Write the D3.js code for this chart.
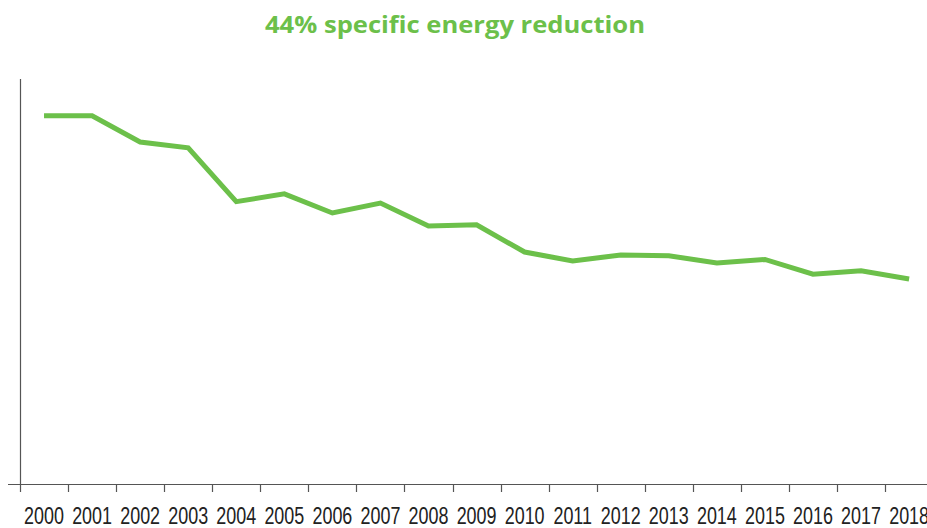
<!DOCTYPE html>
<html>
<head>
<meta charset="utf-8">
<script src="https://cdn.jsdelivr.net/npm/d3@7"></script>
<style>
  html, body { margin: 0; padding: 0; background: #fff; }
  svg { display: block; }
</style>
</head>
<body>
<svg id="chart" width="927" height="528"></svg>
<script>
const years = ["2000","2001","2002","2003","2004","2005","2006","2007","2008","2009",
               "2010","2011","2012","2013","2014","2015","2016","2017","2018"];
// Specific energy index (2000 = 100)
const energyIndex = [100, 100, 92.9, 91.3, 76.7, 78.8, 73.6, 76.3, 70.1, 70.4,
                     63.0, 60.6, 62.2, 62.0, 60.0, 61.0, 57.0, 57.9, 55.7];
const titleText = "44% specific energy reduction";

const W = 927, H = 528;
const green = "#6cc04a";
const axisColor = "#555";

const svg = d3.select("#chart");

const x = d3.scaleBand().domain(years).range([20, 20 + 19 * 48.06]).padding(0);
const y = d3.scaleLinear().domain([0, 110]).range([484, 79]);

// Title
svg.append("text")
  .attr("x", 455).attr("y", 33)
  .attr("text-anchor", "middle")
  .attr("fill", green)
  .attr("textLength", 380)
  .attr("lengthAdjust", "spacingAndGlyphs")
  .style("font-family", "'Open Sans', Lato, sans-serif")
  .style("font-weight", "700")
  .style("font-size", "22.5px")
  .text(titleText);

// Y axis line
svg.append("line")
  .attr("x1", 20.5).attr("x2", 20.5)
  .attr("y1", y(110)).attr("y2", y(0))
  .attr("stroke", axisColor).attr("stroke-width", 1.2);

// X axis line
svg.append("line")
  .attr("x1", 8).attr("x2", W)
  .attr("y1", y(0) + 0.5).attr("y2", y(0) + 0.5)
  .attr("stroke", axisColor).attr("stroke-width", 1.2);

// Tick marks at band boundaries
svg.append("g").selectAll("line")
  .data(years)
  .join("line")
  .attr("x1", d => Math.round(x(d)) + 0.5)
  .attr("x2", d => Math.round(x(d)) + 0.5)
  .attr("y1", y(0))
  .attr("y2", y(0) + 8)
  .attr("stroke", axisColor).attr("stroke-width", 1.2);

// Labels via axis
const xAxis = d3.axisBottom(x).tickSize(0).tickPadding(0);
const gx = svg.append("g")
  .attr("transform", `translate(0, ${y(0)})`)
  .call(xAxis);
gx.select(".domain").remove();
gx.selectAll("text")
  .attr("dy", null)
  .attr("y", 40.5)
  .attr("fill", "#222")
  .attr("transform", "scale(0.78,1)")
  .style("font-family", "'Liberation Sans', Arial, sans-serif")
  .style("font-size", "23px");

// Line
const line = d3.line()
  .x((d, i) => x(years[i]) + x.bandwidth() / 2)
  .y(d => y(d));

svg.append("path")
  .datum(energyIndex)
  .attr("d", line)
  .attr("fill", "none")
  .attr("stroke", green)
  .attr("stroke-width", 5)
  .attr("stroke-linejoin", "miter")
  .attr("stroke-linecap", "butt");
</script>
</body>
</html>
